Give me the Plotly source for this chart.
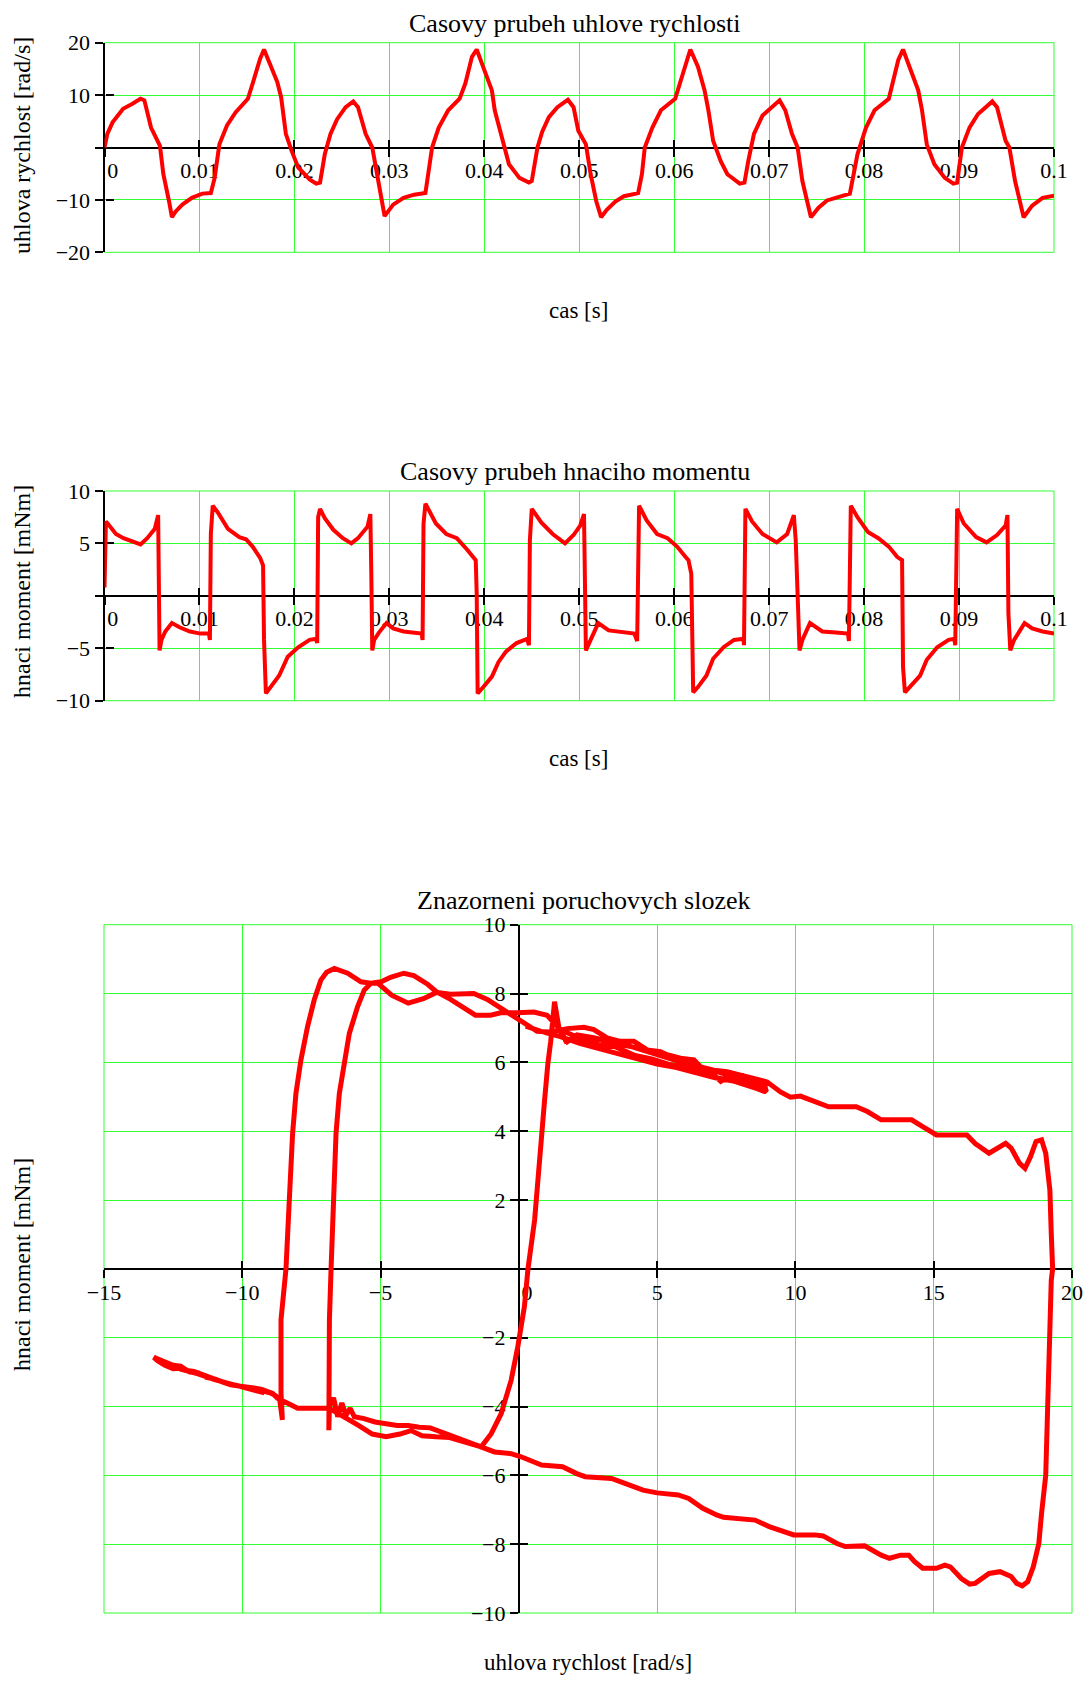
import plotly.graph_objects as go

# ---------------- Chart 1: angular velocity vs time ----------------
omega_time = [
    0.0, 0.0003, 0.00085, 0.00196, 0.0029, 0.0038, 0.0042, 0.0049, 0.00584, 0.0062,
    0.0068, 0.0071, 0.0075, 0.0082, 0.0092, 0.0103, 0.0112, 0.0116, 0.0121, 0.0129,
    0.0138, 0.0151, 0.0156, 0.0164, 0.0168, 0.0175, 0.0182, 0.0186, 0.0191, 0.0197,
    0.0204, 0.0216, 0.0223, 0.0227, 0.0232, 0.0238, 0.0245, 0.0254, 0.0262, 0.0267,
    0.0275, 0.0282, 0.0288, 0.0295, 0.0304, 0.0315, 0.0326, 0.0338, 0.0345, 0.0352,
    0.0362, 0.0374, 0.0380, 0.0387, 0.0392, 0.0400, 0.0408, 0.0411, 0.0419, 0.0426,
    0.0437, 0.0447, 0.0450, 0.0456, 0.0461, 0.0468, 0.0477, 0.0488, 0.0494, 0.0499,
    0.0507, 0.0512, 0.0518, 0.0523, 0.0529, 0.0538, 0.0547, 0.0562, 0.0566, 0.0569,
    0.0577, 0.0586, 0.0601, 0.0606, 0.0614, 0.0617, 0.0625, 0.0632, 0.0636, 0.0641,
    0.0649, 0.0656, 0.0669, 0.0674, 0.0678, 0.0684, 0.0693, 0.0711, 0.0717, 0.0724,
    0.0730, 0.0735, 0.0744, 0.0752, 0.0761, 0.0774, 0.0785, 0.0789, 0.0793, 0.0802,
    0.0811, 0.0826, 0.0830, 0.0836, 0.0841, 0.0848, 0.0857, 0.0861, 0.0866, 0.0874,
    0.0885, 0.0894, 0.0898, 0.0903, 0.0911, 0.0920, 0.0935, 0.0940, 0.0949, 0.0953,
    0.0959, 0.0968, 0.0977, 0.0988, 0.1000,
]
omega = [
    0.0, 2.6, 4.8, 7.4, 8.3, 9.3, 9.0, 3.8, 0.3, -5.1,
    -10.3, -13.3, -12.2, -10.9, -9.6, -8.8, -8.7, -5.8, 0.6, 4.2,
    6.7, 9.3, 12.2, 17.0, 18.7, 15.4, 12.5, 9.6, 2.6, -0.6,
    -3.8, -6.1, -6.9, -6.7, -1.3, 2.6, 5.4, 7.7, 8.8, 7.7,
    2.6, 0.0, -6.4, -13.1, -10.9, -9.6, -9.0, -8.7, 0.0, 3.8,
    7.1, 9.3, 12.2, 17.3, 18.7, 14.7, 10.9, 7.1, 1.3, -3.2,
    -5.8, -6.7, -6.4, 0.0, 3.0, 5.8, 7.7, 9.1, 7.7, 3.2,
    0.6, -5.1, -10.3, -13.3, -11.9, -10.3, -9.3, -8.7, -5.1, 0.0,
    3.8, 7.1, 9.3, 12.2, 17.3, 18.7, 15.4, 10.9, 7.1, 1.3,
    -2.6, -5.1, -6.9, -6.7, -2.6, 2.6, 6.1, 9.0, 7.1, 2.6,
    0.0, -6.4, -13.3, -11.5, -10.1, -9.3, -8.8, -5.1, -1.3, 3.8,
    7.1, 9.3, 12.2, 16.7, 18.7, 15.4, 10.9, 7.1, 0.6, -3.2,
    -5.8, -6.9, -6.7, 0.0, 3.8, 6.4, 8.8, 7.7, 1.3, 0.0,
    -6.4, -13.3, -11.1, -9.6, -9.2,
]

# ---------------- Chart 2: driving torque vs time ----------------
moment_time = [
    0.0, 0.00015, 0.0005, 0.0012, 0.0020, 0.0029, 0.0038, 0.0045, 0.0053, 0.00565,
    0.0057, 0.0058, 0.0060, 0.0064, 0.0071, 0.0079, 0.0090, 0.0101, 0.0110, 0.0111,
    0.0112, 0.0114, 0.0119, 0.0130, 0.0142, 0.0149, 0.0156, 0.0164, 0.0167, 0.0168,
    0.0170, 0.0175, 0.0184, 0.0193, 0.0204, 0.0216, 0.0223, 0.0224, 0.0225, 0.0227,
    0.0232, 0.0241, 0.0251, 0.0260, 0.0267, 0.0277, 0.0280, 0.0281, 0.0282, 0.0284,
    0.0289, 0.0297, 0.0304, 0.0315, 0.0326, 0.0334, 0.0335, 0.0336, 0.0338, 0.0349,
    0.0360, 0.0371, 0.0382, 0.0391, 0.0392, 0.0393, 0.0399, 0.0408, 0.0415, 0.0423,
    0.0434, 0.0445, 0.0447, 0.0448, 0.0450, 0.0460, 0.0472, 0.0485, 0.0494, 0.0501,
    0.0505, 0.05055, 0.0507, 0.0512, 0.0520, 0.0531, 0.0545, 0.0558, 0.0561, 0.0562,
    0.0563, 0.0571, 0.0582, 0.0593, 0.0603, 0.0612, 0.0615, 0.0618, 0.0620, 0.0625,
    0.0634, 0.0641, 0.0652, 0.0663, 0.0673, 0.06735, 0.0675, 0.0682, 0.0693, 0.0708,
    0.0719, 0.0726, 0.0728, 0.0732, 0.0735, 0.0743, 0.0756, 0.0770, 0.0783, 0.0784,
    0.0785, 0.0786, 0.0793, 0.0804, 0.0815, 0.0826, 0.0835, 0.0840, 0.0841, 0.0843,
    0.0848, 0.0859, 0.0866, 0.0877, 0.0889, 0.0895, 0.0896, 0.0898, 0.0905, 0.0918,
    0.0929, 0.0940, 0.0949, 0.0951, 0.0952, 0.0954, 0.0958, 0.0969, 0.0977, 0.0988,
    0.1000,
]
moment = [
    0.8, 7.1, 6.7, 5.9, 5.5, 5.2, 4.9, 5.5, 6.4, 7.7,
    -1.0, -5.2, -4.2, -3.4, -2.6, -3.0, -3.4, -3.6, -3.6, -4.2,
    5.9, 8.6, 8.0, 6.4, 5.6, 5.4, 4.7, 3.6, 2.9, -4.2,
    -9.3, -8.7, -7.6, -5.8, -4.9, -4.2, -4.1, -4.5, 7.5, 8.3,
    7.4, 6.3, 5.5, 5.0, 5.5, 6.6, 7.8, 2.1, -5.2, -4.2,
    -3.5, -2.6, -3.1, -3.4, -3.5, -3.6, -4.2, 6.9, 8.8, 6.9,
    5.9, 5.5, 4.4, 3.4, 0.2, -9.3, -8.7, -7.7, -6.3, -5.3,
    -4.5, -4.1, -4.7, 5.3, 8.3, 7.0, 5.9, 5.0, 5.8, 6.7,
    7.8, 5.3, -5.2, -4.2, -2.6, -3.3, -3.5, -3.6, -4.3, 3.7,
    8.6, 7.2, 5.9, 5.5, 4.7, 3.7, 3.4, 2.1, -9.2, -8.7,
    -7.6, -6.0, -4.9, -4.2, -4.1, -4.7, 8.3, 7.1, 5.9, 5.1,
    5.9, 7.7, 5.3, -5.2, -4.2, -2.6, -3.4, -3.5, -3.6, -4.3,
    0.5, 8.6, 7.5, 6.1, 5.5, 4.7, 3.7, 3.4, -6.8, -9.2,
    -8.7, -7.6, -6.1, -4.9, -4.2, -4.1, -4.7, 8.3, 6.9, 5.6,
    5.1, 5.8, 6.7, 7.7, -1.7, -5.2, -4.2, -2.6, -3.1, -3.4,
    -3.6,
]

# ---------------- Chart 3: torque vs angular velocity (trajectory pieces) ----------------
lobe_out1_w = [0.25, 0.8, 1.5, 2.2, 2.9, 3.6, 4.3, 5.0, 5.7, 6.4, 7.1, 7.8, 8.4, 8.95]
lobe_out1_m = [7.05, 6.9, 6.75, 6.55, 6.4, 6.25, 6.1, 5.95, 5.85, 5.7, 5.55, 5.45, 5.3, 5.15]
lobe_back1_w = [8.9, 8.3, 7.6, 7.3, 6.9, 6.2, 5.5, 4.8, 4.1, 3.4, 2.7, 2.1, 1.7, 1.45, 1.29]
lobe_back1_m = [5.3, 5.45, 5.6, 5.45, 5.75, 5.95, 6.1, 6.3, 6.45, 6.55, 6.7, 6.75, 6.62, 7.0, 7.76]
drop_a_w = [1.15, 1.05, 0.93, 0.75, 0.57, 0.33, 0.2, -0.04, -0.28, -0.64, -1.0, -1.36]
drop_a_m = [6.6, 5.97, 4.9, 2.97, 1.42, 0.0, -1.1, -2.27, -3.24, -4.21, -4.79, -5.17]
loop_low_w = [-2.0, -2.5, -3.0, -3.5, -3.9, -4.3, -4.8, -5.3, -5.8, -6.3, -6.85]
loop_low_m = [-5.02, -4.9, -4.88, -4.85, -4.7, -4.8, -4.88, -4.8, -4.55, -4.3, -4.05]
flat_w = [-7.4, -8.0, -8.25, -8.5]
flat_m = [-4.05, -4.05, -3.95, -3.85]
band_out_w = [-8.73, -8.9, -9.09, -9.3, -9.58, -9.8, -10.06, -10.42, -10.6, -10.78, -11.0,
              -11.27, -11.5, -11.75, -12.0, -12.23, -12.5, -12.72, -12.9, -13.08, -13.2]
band_out_m = [-3.76, -3.62, -3.56, -3.5, -3.46, -3.45, -3.41, -3.37, -3.3, -3.27, -3.2,
              -3.12, -3.08, -2.98, -2.95, -2.83, -2.8, -2.73, -2.68, -2.59, -2.57]
band_back_w = [-13.05, -12.8, -12.5, -12.2, -11.9, -11.6, -11.3, -11.0, -10.6, -10.2,
               -9.8, -9.4, -9.0, -8.8, -8.65, -8.55]
band_back_m = [-2.68, -2.8, -2.9, -2.88, -3.0, -3.02, -3.15, -3.2, -3.32, -3.4,
               -3.45, -3.52, -3.6, -3.68, -3.78, -4.39]
jump_b_w = [-8.6, -8.6, -8.42, -8.3, -8.18, -8.06, -7.88, -7.64, -7.4, -7.16, -6.95,
            -6.67, -6.19, -5.71, -5.35, -4.98]
jump_b_m = [-3.6, -1.48, 0.0, 2.0, 3.94, 5.1, 6.07, 7.04, 7.81, 8.39, 8.62,
            8.73, 8.59, 8.34, 8.3, 8.34]
upper_w = [-4.64, -4.16, -3.8, -3.3, -2.95, -2.47, -1.63, -1.14, -0.66, -0.18, 0.30, 0.66,
           1.14, 1.75, 2.35, 2.71, 3.19, 3.67, 4.16, 4.64, 5.12, 5.36, 5.84, 6.33, 6.57,
           7.05, 7.53, 8.01, 8.98, 9.46, 9.82, 10.18, 10.95, 11.2, 12.2, 12.6, 13.1, 14.2,
           14.6, 15.1, 16.2, 16.5, 17.0, 17.3, 17.6, 17.8, 18.1, 18.3, 18.5, 18.7, 18.9,
           19.05, 19.2, 19.25, 19.3]
upper_m = [8.47, 8.59, 8.52, 8.27, 8.03, 7.98, 8.0, 7.83, 7.59, 7.34, 7.1, 6.9,
           6.88, 6.98, 7.02, 6.95, 6.71, 6.61, 6.61, 6.36, 6.31, 6.22, 6.12, 6.07, 5.87,
           5.77, 5.73, 5.63, 5.43, 5.14, 4.99, 5.02, 4.81, 4.71, 4.71, 4.57, 4.33, 4.33,
           4.13, 3.89, 3.89, 3.64, 3.36, 3.51, 3.65, 3.51, 3.07, 2.92, 3.26, 3.7, 3.75,
           3.36, 2.29, 1.04, 0.0]
lower_w = [19.25, 19.2, 19.15, 19.05, 18.9, 18.8, 18.6, 18.4, 18.2, 18.0, 17.8, 17.4, 17.0,
           16.5, 16.3, 16.0, 15.6, 15.4, 15.1, 14.6, 14.3, 14.1, 13.8, 13.4, 13.1, 12.7,
           12.5, 11.8, 11.5, 11.0, 10.7, 9.94, 9.43, 9.05, 8.54, 7.91, 7.4, 7.15, 6.65,
           6.14, 5.76, 5.0, 4.49, 3.86, 3.35, 2.4, 2.09, 1.58, 0.82, 0.08, -0.28, -0.88, -1.36]
lower_m = [-0.34, -2.0, -4.0, -6.0, -7.1, -7.98, -8.66, -9.09, -9.21, -9.14, -8.94, -8.8, -8.85,
           -9.14, -9.16, -9.0, -8.66, -8.61, -8.7, -8.7, -8.5, -8.32, -8.32, -8.41, -8.32, -8.12,
           -8.05, -8.07, -7.98, -7.76, -7.73, -7.73, -7.6, -7.49, -7.3, -7.25, -7.22, -7.15, -6.96,
           -6.67, -6.57, -6.51, -6.43, -6.24, -6.09, -6.04, -5.95, -5.75, -5.7, -5.46, -5.37, -5.32, -5.17]
loop_up_w = [-1.6, -2.0, -2.4, -2.8, -3.2, -3.6, -4.0, -4.4, -4.8, -5.2, -5.6, -5.95,
             -6.1, -6.25, -6.4, -6.55, -6.7, -6.85, -6.87]
loop_up_m = [-5.12, -5.0, -4.85, -4.72, -4.62, -4.6, -4.55, -4.55, -4.5, -4.45, -4.35, -4.3,
             -4.05, -4.25, -3.9, -4.3, -3.75, -4.0, -4.69]
jump_a_w = [-6.85, -6.79, -6.71, -6.61, -6.49, -6.31, -6.13, -5.83, -5.59, -5.35, -5.1]
jump_a_m = [-1.48, 0.0, 2.0, 3.94, 5.1, 6.07, 6.84, 7.62, 8.1, 8.3, 8.3]
branch2_w = [-4.6, -4.0, -3.45, -2.96, -2.47, -1.99, -1.57, -1.02, -0.66, -0.06, 0.54, 1.02]
branch2_m = [7.95, 7.72, 7.85, 8.04, 7.83, 7.59, 7.37, 7.37, 7.44, 7.44, 7.46, 7.37]
lobe_out2_w = [1.5, 2.2, 2.9, 3.5, 4.2, 4.8, 5.4, 6.0, 6.6, 7.2, 7.8, 8.1, 8.4, 8.9]
lobe_out2_m = [6.95, 6.7, 6.5, 6.45, 6.2, 6.1, 5.95, 5.85, 5.7, 5.55, 5.45, 5.6, 5.3, 5.15]
lobe_back2_w = [8.7, 8.1, 7.5, 6.9, 6.3, 5.7, 5.1, 4.5, 3.9, 3.3, 2.7, 2.1, 1.75, 1.45, 1.29]
lobe_back2_m = [5.35, 5.5, 5.65, 5.8, 5.9, 6.05, 6.2, 6.35, 6.5, 6.6, 6.72, 6.8, 6.6, 6.95, 7.76]
band_end_w = [-12.8, -12.2, -11.6, -11.0, -10.4, -9.8, -9.2]
band_end_m = [-2.75, -2.92, -3.05, -3.22, -3.35, -3.47, -3.6]

trajectory_order = [
    (lobe_out1_w, lobe_out1_m), (lobe_back1_w, lobe_back1_m), (drop_a_w, drop_a_m),
    (loop_low_w, loop_low_m), (flat_w, flat_m), (band_out_w, band_out_m),
    (band_back_w, band_back_m), (jump_b_w, jump_b_m), (upper_w, upper_m),
    (lower_w, lower_m), (loop_up_w, loop_up_m), (jump_a_w, jump_a_m),
    (branch2_w, branch2_m), (lobe_out2_w, lobe_out2_m), (lobe_back2_w, lobe_back2_m),
    (drop_a_w, drop_a_m), (loop_low_w, loop_low_m), (flat_w, flat_m),
    (band_out_w, band_out_m), (band_end_w, band_end_m),
]
phase_w, phase_m = [], []
for seg_w, seg_m in trajectory_order:
    phase_w += seg_w
    phase_m += seg_m

# ---------------- tick definitions ----------------
time_ticks = [0, 0.01, 0.02, 0.03, 0.04, 0.05, 0.06, 0.07, 0.08, 0.09, 0.1]
time_labels = ["\u00a0\u00a0\u00a00", "0.01", "0.02", "0.03", "0.04", "0.05", "0.06",
               "0.07", "0.08", "0.09", "0.1"]
omega_ticks = [-20, -10, 0, 10, 20]
omega_labels = ["\u221220", "\u221210", "", "10", "20"]
moment_ticks = [-10, -5, 0, 5, 10]
moment_labels = ["\u221210", "\u22125", "", "5", "10"]
phase_x_ticks = [-15, -10, -5, 0, 5, 10, 15, 20]
phase_x_labels = ["\u221215", "\u221210", "\u22125", "\u00a0\u00a0\u00a00", "5", "10", "15", "20"]
phase_y_ticks = [-10, -8, -6, -4, -2, 0, 2, 4, 6, 8, 10]
phase_y_labels = ["\u221210", "\u22128", "\u22126", "\u22124", "\u22122", "",
                  "2", "4", "6", "8", "10"]

# ---------------- styling / layout ----------------
FONT = "Liberation Serif"
GRID = "#33ff33"
RED = "#ff0000"
PAGE_OFF = 8                 # default body margin of the page
W, H = 1075, 1670            # figure size so that figure + body margins = 1091 x 1686

def px_x(p):
    return (p - PAGE_OFF) / W

def px_y(p):
    return 1 - (p - PAGE_OFF) / H

dom_x12 = [px_x(104.5), px_x(1054)]
dom_y1 = [px_y(252.3), px_y(42.7)]
dom_y2 = [px_y(700.7), px_y(491)]
dom_x3 = [px_x(104), px_x(1072)]
dom_y3 = [px_y(1613), px_y(924.7)]

pos_x1 = (dom_y1[0] + dom_y1[1]) / 2
pos_x2 = (dom_y2[0] + dom_y2[1]) / 2
pos_x3 = (dom_y3[0] + dom_y3[1]) / 2
pos_y3 = dom_x3[0] + (0 - (-15)) / 35 * (dom_x3[1] - dom_x3[0])

tickfont = dict(family=FONT, size=22, color="black")

def main_axis(domain, rng, tickvals, ticktext, **kw):
    d = dict(domain=domain, range=rng, tickvals=tickvals, ticktext=ticktext,
             showgrid=True, gridcolor=GRID, gridwidth=1, zeroline=False,
             showline=True, linecolor="black", linewidth=2,
             ticks="outside", ticklen=8, tickwidth=2, tickcolor="black",
             tickfont=tickfont, layer="below traces", fixedrange=True)
    d.update(kw)
    return d

def tick_axis(domain, rng, tickvals, **kw):
    d = dict(domain=domain, range=rng, tickvals=tickvals, showticklabels=False,
             showgrid=False, zeroline=False, showline=False,
             ticks="inside", ticklen=8, tickwidth=2, tickcolor="black",
             layer="below traces", fixedrange=True)
    d.update(kw)
    return d

fig = go.Figure()
fig.add_trace(go.Scatter(x=omega_time, y=omega, mode="lines", xaxis="x", yaxis="y",
                         line=dict(color=RED, width=4), showlegend=False, hoverinfo="skip"))
fig.add_trace(go.Scatter(x=moment_time, y=moment, mode="lines", xaxis="x2", yaxis="y2",
                         line=dict(color=RED, width=4), showlegend=False, hoverinfo="skip"))
fig.add_trace(go.Scatter(x=phase_w, y=phase_m, mode="lines", xaxis="x3", yaxis="y3",
                         line=dict(color=RED, width=5), showlegend=False, hoverinfo="skip"))
# empty traces that carry the inward tick marks of the crossing axes
for xa, ya in (("x4", "y4"), ("x5", "y5"), ("x6", "y6")):
    fig.add_trace(go.Scatter(x=[], y=[], xaxis=xa, yaxis=ya, showlegend=False, hoverinfo="skip"))

layout = dict(
    width=W, height=H, margin=dict(l=0, r=0, t=0, b=0, pad=0, autoexpand=False),
    paper_bgcolor="white", plot_bgcolor="white",
    font=dict(family=FONT, color="black"),
    showlegend=False,
    xaxis=main_axis(dom_x12, [0, 0.1], time_ticks, time_labels, anchor="free",
                    position=pos_x1, ticklabelstandoff=-5),
    yaxis=main_axis(dom_y1, [-20, 20], omega_ticks, omega_labels, anchor="x"),
    xaxis2=main_axis(dom_x12, [0, 0.1], time_ticks, time_labels, anchor="free",
                     position=pos_x2, ticklabelstandoff=-5),
    yaxis2=main_axis(dom_y2, [-10, 10], moment_ticks, moment_labels, anchor="x2"),
    xaxis3=main_axis(dom_x3, [-15, 20], phase_x_ticks, phase_x_labels, anchor="free",
                     position=pos_x3, ticklabelstandoff=-4),
    yaxis3=main_axis(dom_y3, [-10, 10], phase_y_ticks, phase_y_labels, anchor="free",
                     position=pos_y3),
    xaxis4=tick_axis(dom_x12, [0, 0.1], time_ticks, overlaying="x", anchor="free", position=pos_x1),
    yaxis4=tick_axis(dom_y1, [-20, 20], omega_ticks, overlaying="y", anchor="free", position=dom_x12[0]),
    xaxis5=tick_axis(dom_x12, [0, 0.1], time_ticks, overlaying="x2", anchor="free", position=pos_x2),
    yaxis5=tick_axis(dom_y2, [-10, 10], moment_ticks, overlaying="y2", anchor="free", position=dom_x12[0]),
    xaxis6=tick_axis(dom_x3, [-15, 20], phase_x_ticks, overlaying="x3", anchor="free", position=pos_x3),
    yaxis6=tick_axis(dom_y3, [-10, 10], phase_y_ticks, overlaying="y3", anchor="free", position=pos_y3),
)

shapes = []
for xr, yr in (("x", "y"), ("x2", "y2"), ("x3", "y3")):
    shapes.append(dict(type="rect", xref=xr + " domain", yref=yr + " domain",
                       x0=0, x1=1, y0=0, y1=1, line=dict(color=GRID, width=1), layer="below"))
layout["shapes"] = shapes

def text_ann(text, x, y, size, angle=0):
    return dict(text=text, x=x, y=y, xref="paper", yref="paper", showarrow=False,
                xanchor="center", yanchor="middle", textangle=angle,
                font=dict(family=FONT, size=size, color="black"))

layout["annotations"] = [
    text_ann("Casovy prubeh uhlove rychlosti", px_x(574), px_y(23), 26),
    text_ann("cas [s]", px_x(578), px_y(310), 23),
    text_ann("uhlova rychlost [rad/s]", px_x(22), px_y(146), 24, -90),
    text_ann("Casovy prubeh hnaciho momentu", px_x(575), px_y(471), 26),
    text_ann("cas [s]", px_x(578), px_y(758), 23),
    text_ann("hnaci moment [mNm]", px_x(22), px_y(592), 24, -90),
    text_ann("Znazorneni poruchovych slozek", px_x(584), px_y(900), 26),
    text_ann("uhlova rychlost [rad/s]", px_x(588), px_y(1662), 23),
    text_ann("hnaci moment [mNm]", px_x(22), px_y(1265), 24, -90),
]

fig.update_layout(**layout)
fig.write_html("out.html", include_plotlyjs=True, full_html=True,
               config={"displayModeBar": False, "staticPlot": True})
